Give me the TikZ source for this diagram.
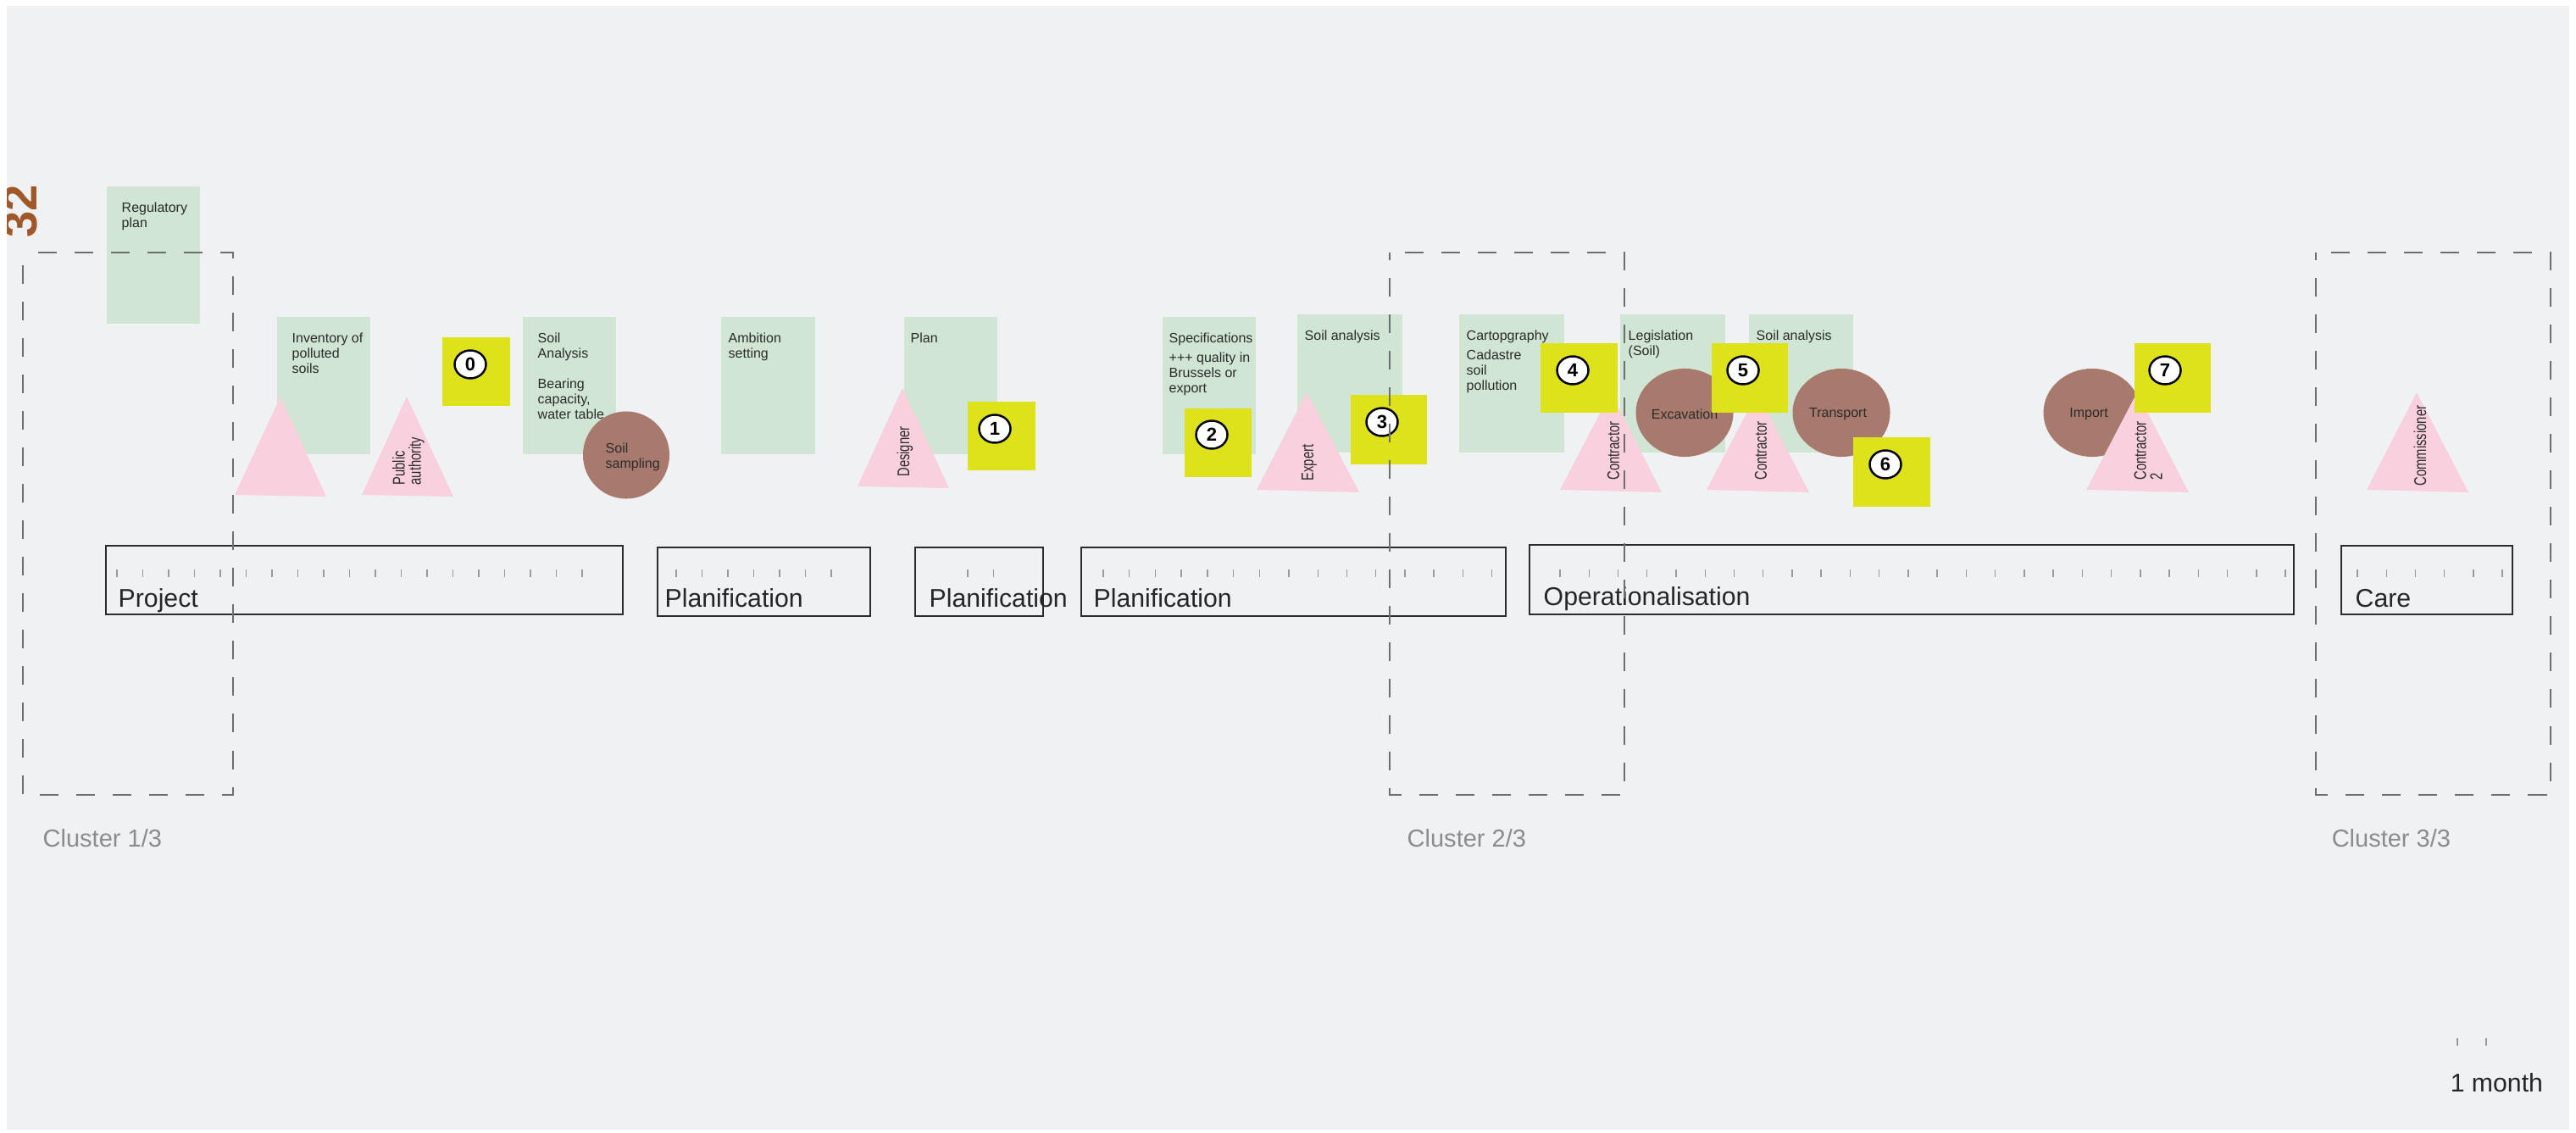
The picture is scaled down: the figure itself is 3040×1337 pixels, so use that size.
\documentclass[tikz,border=0pt]{standalone}
\usepackage{fontspec}
\setmainfont{Liberation Sans}
\newfontfamily\narrowsans{Liberation Sans}[FakeStretch=0.74]
\usetikzlibrary{shapes.geometric}

\definecolor{panel}{HTML}{F0F1F3}
\definecolor{leaf}{HTML}{D0E5D3}
\definecolor{lime}{HTML}{DEE21B}
\definecolor{clay}{HTML}{A87A6D}
\definecolor{blush}{HTML}{F8D0DE}
\definecolor{ink}{HTML}{2B2B2B}
\definecolor{dashgray}{HTML}{6E6E6E}
\definecolor{tickgray}{HTML}{9A9A9A}
\definecolor{clustergray}{HTML}{8C8C8C}
\definecolor{rust}{HTML}{A0582A}

\tikzset{
  leafbox/.style={fill=leaf, draw=none, inner sep=0, anchor=north west},
  limebox/.style={fill=lime, draw=none, inner sep=0, anchor=north west},
  claydisc/.style={ellipse, fill=clay, draw=none, inner sep=0},
  smalltext/.style={inner sep=0, align=left, text=ink,
    font=\fontsize{4.55pt}{5.12pt}\selectfont},
  roletext/.style={inner sep=0, align=left, rotate=90, text=ink,
    font=\narrowsans\fontsize{5.69pt}{5.4pt}\selectfont},
  numdisc/.style={ellipse, draw=black, line width=0.7pt, fill=white,
    minimum width=0.37cm, minimum height=0.33cm, inner sep=0,
    font=\bfseries\fontsize{6.26pt}{6.26pt}\selectfont},
  phasebox/.style={draw=ink, line width=0.57pt},
  phasetext/.style={inner sep=0, anchor=base west, text=black!85,
    font=\fontsize{8.6pt}{8.6pt}\selectfont},
  tickmark/.style={draw=tickgray, line width=0.4pt},
  clusterbox/.style={draw=dashgray, line width=0.55pt,
    dash pattern=on 0.22cm off 0.21cm, dash phase=0.25cm},
  clustertext/.style={inner sep=0, anchor=base west, text=clustergray,
    font=\fontsize{8.25pt}{8.25pt}\selectfont}
}

\begin{document}
\begin{tikzpicture}[x=0.01cm, y=-0.01cm]
\useasboundingbox (0,0) rectangle (3040,1337);
\fill[white] (0,0) rectangle (3040,1337);
\fill[panel] (8,7) rectangle (3032,1333);

% page number, cut by the panel edge
\begin{scope}
  \clip (8,7) rectangle (3032,1333);
  \node[rotate=90, anchor=base west, inner sep=0, text=rust,
        font=\bfseries\fontsize{16pt}{16pt}\selectfont] (pagenum) at (44,281) {32};
\end{scope}

% ---------- documents (green) ----------
\node[leafbox, minimum width=1.10cm, minimum height=1.62cm] (regplan) at (125,219) {};
\node[leafbox, minimum width=1.10cm, minimum height=1.62cm] (inventory) at (326,373) {};
\node[leafbox, minimum width=1.10cm, minimum height=1.62cm] (soilA) at (616,373) {};
\node[leafbox, minimum width=1.11cm, minimum height=1.62cm] (ambition) at (850,373) {};
\node[leafbox, minimum width=1.10cm, minimum height=1.62cm] (plan) at (1066,373) {};
\node[leafbox, minimum width=1.10cm, minimum height=1.62cm] (specs) at (1371,373) {};
\node[leafbox, minimum width=1.24cm, minimum height=1.63cm] (soilB) at (1530,370) {};
\node[leafbox, minimum width=1.24cm, minimum height=1.63cm] (carto) at (1721,370) {};
\node[leafbox, minimum width=1.24cm, minimum height=1.63cm] (legis) at (1911,370) {};
\node[leafbox, minimum width=1.23cm, minimum height=1.63cm] (soilC) at (2063,370) {};

\node[smalltext, anchor=north west] (regplanT) at (143,238) {Regulatory\\plan};
\node[smalltext, anchor=north west] (inventoryT) at (344,392) {Inventory of\\polluted\\soils};
\node[smalltext, anchor=north west] (soilAT) at (634,392) {Soil\\Analysis\\[5.3pt]Bearing\\capacity,\\water table};
\node[smalltext, anchor=north west] (ambitionT) at (859,392) {Ambition\\setting};
\node[smalltext, anchor=north west] (planT) at (1074,392) {Plan};
\node[smalltext, anchor=north west] (specsT) at (1379,392) {Specifications\\[1.5pt]+++ quality in\\Brussels or\\export};
\node[smalltext, anchor=north west] (soilBT) at (1539,389) {Soil analysis};
\node[smalltext, anchor=north west] (cartoT) at (1730,389) {Cartopgraphy\\[1.5pt]Cadastre\\soil\\pollution};
\node[smalltext, anchor=north west] (legisT) at (1921,389) {Legislation\\(Soil)};
\node[smalltext, anchor=north west] (soilCT) at (2072,389) {Soil analysis};

% ---------- activities (brown) ----------
\node[claydisc, minimum width=1.02cm, minimum height=1.03cm] (sampling) at (739,537) {};
\node[claydisc, minimum width=1.15cm, minimum height=1.04cm] (excavation) at (1988,487) {};
\node[claydisc, minimum width=1.15cm, minimum height=1.04cm] (transport) at (2173,487) {};
\node[claydisc, minimum width=1.15cm, minimum height=1.04cm] (import) at (2469,487) {};

\node[smalltext, anchor=west] (samplingT) at (714,539) {Soil\\sampling};
\node[smalltext] (excavationT) at (1988,489) {Excavation};
\node[smalltext] (transportT) at (2169,489) {Transport};
\node[smalltext] (importT) at (2465,489) {Import};

% ---------- actors (pink) ----------
\fill[blush] (331,468) -- (385,586) -- (277,584) -- cycle;
\fill[blush] (480,468) -- (535,586) -- (427,584) -- cycle;
\fill[blush] (1065,458) -- (1120,576) -- (1012,574) -- cycle;
\fill[blush] (1542,463) -- (1604,581) -- (1483,578) -- cycle;
\fill[blush] (1901,463) -- (1961,581) -- (1841,578) -- cycle;
\fill[blush] (2074,463) -- (2135,581) -- (2014,578) -- cycle;
\fill[blush] (2522,463) -- (2583,581) -- (2462,578) -- cycle;
\fill[blush] (2852,463) -- (2913,581) -- (2793,578) -- cycle;

\node[roletext] (authority) at (482,544) {Public\\authority};
\node[roletext] (designer) at (1068,533) {Designer};
\node[roletext] (expert) at (1545,546) {Expert};
\node[roletext] (contractorA) at (1904,532) {Contractor};
\node[roletext] (contractorB) at (2078,532) {Contractor};
\node[roletext] (contractorC) at (2535,532) {Contractor\\2};
\node[roletext] (commissioner) at (2856,526) {Commissioner};

% ---------- steps (yellow) ----------
\node[limebox, minimum width=0.80cm, minimum height=0.81cm] (s0) at (521,397) {};
\node[limebox, minimum width=0.80cm, minimum height=0.81cm] (s1) at (1141,473) {};
\node[limebox, minimum width=0.79cm, minimum height=0.81cm] (s2) at (1397,481) {};
\node[limebox, minimum width=0.90cm, minimum height=0.82cm] (s3) at (1593,465) {};
\node[limebox, minimum width=0.91cm, minimum height=0.82cm] (s4) at (1817,404) {};
\node[limebox, minimum width=0.90cm, minimum height=0.82cm] (s5) at (2019,404) {};
\node[limebox, minimum width=0.91cm, minimum height=0.82cm] (s6) at (2186,515) {};
\node[limebox, minimum width=0.90cm, minimum height=0.82cm] (s7) at (2518,404) {};

\node[numdisc] (n0) at (555,430) {0};
\node[numdisc] (n1) at (1174,506) {1};
\node[numdisc] (n2) at (1430,513) {2};
\node[numdisc] (n3) at (1631,498) {3};
\node[numdisc] (n4) at (1856,437) {4};
\node[numdisc] (n5) at (2057,437) {5};
\node[numdisc] (n6) at (2225,548) {6};
\node[numdisc] (n7) at (2555,437) {7};

% ---------- phases ----------
\draw[phasebox] (125,644) rectangle (735,725);
\draw[phasebox] (776,646) rectangle (1027,727);
\draw[phasebox] (1080,646) rectangle (1231,727);
\draw[phasebox] (1276,646) rectangle (1777,727);
\draw[phasebox] (1805,643) rectangle (2707,725);
\draw[phasebox] (2763,644) rectangle (2965,725);

\foreach \i in {0,...,18} \draw[tickmark] ({138+30.5*\i},672) -- ++(0,9);
\foreach \i in {0,...,6}  \draw[tickmark] ({798+30.5*\i},672) -- ++(0,9);
\foreach \i in {0,1}      \draw[tickmark] ({1142+30.5*\i},672) -- ++(0,9);
\foreach \i in {0,...,6}  \draw[tickmark] ({1302+30.7*\i},672) -- ++(0,9);
\foreach \i in {0,...,7}  \draw[tickmark] ({1521+34.2*\i},672) -- ++(0,9);
\foreach \i in {0,...,25} \draw[tickmark] ({1841+34.24*\i},672) -- ++(0,9);
\foreach \i in {0,...,5}  \draw[tickmark] ({2782+34.2*\i},672) -- ++(0,9);

\node[phasetext] (projectT) at (139,716) {Project};
\node[phasetext] (planAT) at (784,716) {Planification};
\node[phasetext] (planBT) at (1096,716) {Planification};
\node[phasetext] (planCT) at (1290,716) {Planification};
\node[phasetext] (operT) at (1821,715) {Operationalisation};
\node[phasetext] (careT) at (2779,716) {Care};

% ---------- clusters ----------
\draw[clusterbox] (27,298) -- (275,298) -- (275,938) -- (27,938) -- cycle;
\draw[clusterbox] (1640,298) -- (1917,298) -- (1917,938) -- (1640,938) -- cycle;
\draw[clusterbox] (2733,298) -- (3010,298) -- (3010,938) -- (2733,938) -- cycle;

\node[clustertext] (clusterA) at (50,999) {Cluster 1/3};
\node[clustertext] (clusterB) at (1660,999) {Cluster 2/3};
\node[clustertext] (clusterC) at (2751,999) {Cluster 3/3};

% ---------- scale ----------
\coordinate (monthA) at (2900,1225);
\coordinate (monthB) at (2934,1225);
\draw[tickmark] (monthA) -- ++(0,9);
\draw[tickmark] (monthB) -- ++(0,9);
\node[phasetext] (monthT) at (2891,1288) {1 month};
\end{tikzpicture}
\end{document}
